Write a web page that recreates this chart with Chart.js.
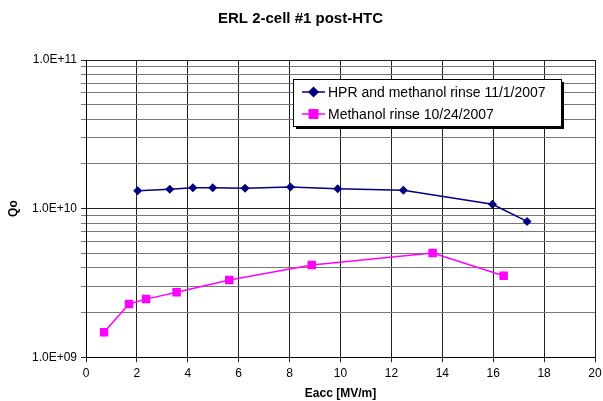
<!DOCTYPE html>
<html>
<head>
<meta charset="utf-8">
<script src="https://cdn.jsdelivr.net/npm/chart.js@4.4.1/dist/chart.umd.min.js"></script>
<style>
    html, body { margin: 0; padding: 0; background: #fff; }
    #wrap { width: 603px; height: 401px; }
</style>
</head>
<body>
<div id="wrap"><canvas id="qChart"></canvas></div>

<script>
    // Datos
    const chartTitle = 'ERL 2-cell #1 post-HTC';
    const xTitle = 'Eacc [MV/m]';
    const yTitle = 'Qo';

    const hprLabel = 'HPR and methanol rinse 11/1/2007';
    const hprEacc = [2.03, 3.29, 4.20, 4.98, 6.25, 8.03, 9.89, 12.47, 15.97, 17.33];
    const hprQo   = [1.32e10, 1.35e10, 1.38e10, 1.38e10, 1.37e10, 1.40e10, 1.36e10, 1.33e10, 1.07e10, 8.2e9];

    const methLabel = 'Methanol rinse 10/24/2007';
    const methEacc = [0.71, 1.69, 2.36, 3.56, 5.63, 8.87, 13.62, 16.41];
    const methQo   = [1.47e9, 2.28e9, 2.46e9, 2.74e9, 3.31e9, 4.17e9, 5.03e9, 3.53e9];

    // Marcas del eje Y (log): décadas con etiqueta y subdivisiones 2..9
    const yDecades = [1e9, 1e10, 1e11];
    const yDecadeLabels = ['1.0E+09', '1.0E+10', '1.0E+11'];
    const yMinorMult = [2, 3, 4, 5, 6, 7, 8, 9];

    const xTicks = [0, 2, 4, 6, 8, 10, 12, 14, 16, 18, 20];

    const FONT = 'Arial, "Liberation Sans", sans-serif';

    // Leyenda con recuadro y sombra, dentro del área del gráfico
    const boxLegend = {
        id: 'boxLegend',
        afterDraw(chart) {
            const ctx = chart.ctx;
            const x = 293, y = 79, w = 268, h = 47;
            ctx.save();
            ctx.fillStyle = '#000';
            ctx.fillRect(x + 3, y + 3, w, h);
            ctx.fillStyle = '#fff';
            ctx.fillRect(x, y, w, h);
            ctx.strokeStyle = '#000';
            ctx.lineWidth = 1;
            ctx.strokeRect(x + 0.5, y + 0.5, w, h);
            ctx.font = '14px ' + FONT;
            ctx.textBaseline = 'middle';
            chart.data.datasets.forEach((ds, i) => {
                const cy = y + 13 + i * 22;
                ctx.strokeStyle = ds.borderColor;
                ctx.lineWidth = 1.5;
                ctx.beginPath();
                ctx.moveTo(x + 9, cy);
                ctx.lineTo(x + 32, cy);
                ctx.stroke();
                Chart.helpers.drawPoint(ctx, {
                    pointStyle: ds.pointStyle,
                    radius: ds.pointRadius,
                    borderWidth: 1
                }, x + 20.5, cy);
                ctx.fillStyle = ds.borderColor;
                ctx.fill();
                ctx.fillStyle = '#000';
                ctx.fillText(ds.label, x + 35, cy + 1);
            });
            ctx.restore();
        }
    };

    const ctx = document.getElementById('qChart').getContext('2d');
    const myChart = new Chart(ctx, {
        type: 'line',
        data: {
            datasets: [
                {
                    label: hprLabel,
                    data: hprEacc.map((e, i) => ({ x: e, y: hprQo[i] })),
                    borderColor: '#000080',
                    backgroundColor: '#000080',
                    borderWidth: 1.5,
                    pointStyle: 'rectRot',
                    pointRadius: 4.5,
                    pointBorderWidth: 0,
                    tension: 0
                },
                {
                    label: methLabel,
                    data: methEacc.map((e, i) => ({ x: e, y: methQo[i] })),
                    borderColor: '#ff00ff',
                    backgroundColor: '#ff00ff',
                    borderWidth: 1.5,
                    pointStyle: 'rect',
                    pointRadius: 6,
                    pointBorderWidth: 0,
                    tension: 0
                }
            ]
        },
        options: {
            responsive: true,
            maintainAspectRatio: false,
            animation: false,
            layout: { padding: { left: 6, right: 8, top: 0, bottom: 0 } },
            plugins: {
                legend: { display: false },
                tooltip: { enabled: false },
                title: {
                    display: true,
                    text: chartTitle,
                    color: '#000',
                    font: { family: FONT, size: 15, weight: 'bold' },
                    padding: { top: 10, bottom: 32 }
                }
            },
            scales: {
                x: {
                    type: 'linear',
                    min: 0,
                    max: 20,
                    afterBuildTicks: axis => { axis.ticks = xTicks.map(v => ({ value: v })); },
                    afterFit: axis => { axis.paddingRight = 0; axis.paddingLeft = 0; },
                    ticks: {
                        color: '#000',
                        font: { family: FONT, size: 12 },
                        maxRotation: 0,
                        padding: 4
                    },
                    grid: { color: '#222', lineWidth: 1, tickLength: 5 },
                    border: { color: '#000', width: 1 },
                    title: {
                        display: true,
                        text: xTitle,
                        color: '#000',
                        font: { family: FONT, size: 12, weight: 'bold' },
                        padding: { top: 2, bottom: 0 }
                    }
                },
                y: {
                    type: 'logarithmic',
                    min: 1e9,
                    max: 1e11,
                    afterBuildTicks: axis => {
                        const t = [];
                        yDecades.forEach((d, i) => {
                            t.push({ value: d, major: true });
                            if (i < yDecades.length - 1) {
                                yMinorMult.forEach(m => t.push({ value: d * m }));
                            }
                        });
                        axis.ticks = t;
                    },
                    afterFit: axis => { axis.width = 80; },
                    ticks: {
                        color: '#000',
                        font: { family: FONT, size: 12 },
                        autoSkip: false,
                        padding: 4,
                        callback: v => {
                            const k = yDecades.indexOf(v);
                            return k >= 0 ? yDecadeLabels[k] : '';
                        }
                    },
                    grid: {
                        color: c => (c.tick && yDecades.includes(c.tick.value)) ? '#222' : '#777',
                        lineWidth: 1,
                        tickLength: 5
                    },
                    border: { color: '#000', width: 1 },
                    title: {
                        display: true,
                        text: yTitle,
                        color: '#000',
                        font: { family: FONT, size: 12, weight: 'bold' },
                        padding: { top: 0, bottom: 0 }
                    }
                }
            }
        },
        plugins: [boxLegend]
    });
</script>
</body>
</html>
